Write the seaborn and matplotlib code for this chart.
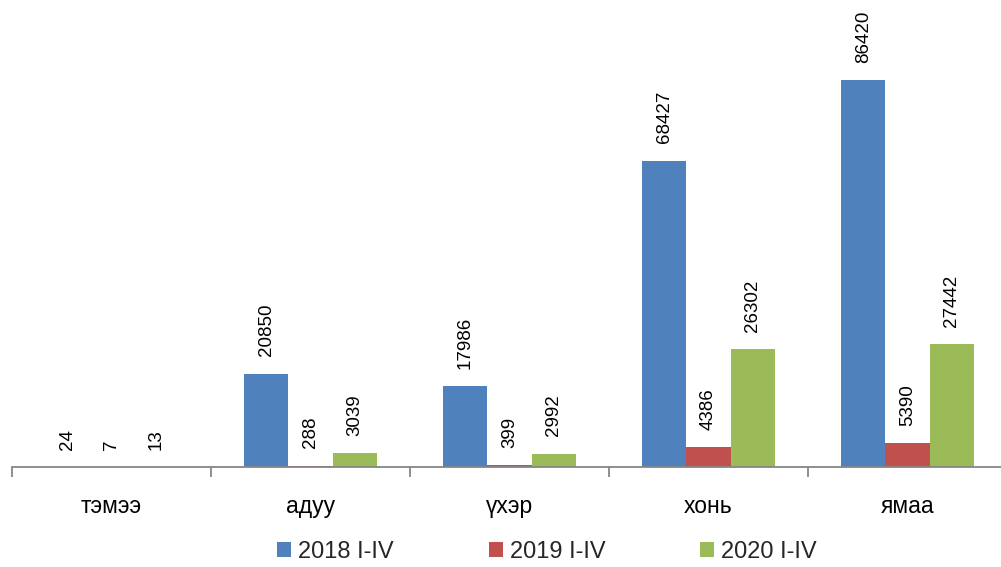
import matplotlib
matplotlib.use("Agg")
import matplotlib.pyplot as plt
import seaborn as sns
import pandas as pd
import numpy as np
from matplotlib.patches import Patch

categories = ["тэмээ", "адуу", "үхэр", "хонь", "ямаа"]
series_names = ["2018 I-IV", "2019 I-IV", "2020 I-IV"]
values_2018 = [24, 20850, 17986, 68427, 86420]
values_2019 = [7, 288, 399, 4386, 5390]
values_2020 = [13, 3039, 2992, 26302, 27442]
colors = ["#4F81BD", "#C0504D", "#9BBB59"]

rows = []
for name, vals in zip(series_names, [values_2018, values_2019, values_2020]):
    for c, v in zip(categories, vals):
        rows.append({"cat": c, "series": name, "value": v})
df = pd.DataFrame(rows)

sns.set_theme(style="white")
plt.rcParams["font.family"] = ["Liberation Sans", "DejaVu Sans"]

W, H = 1001, 567
fig = plt.figure(figsize=(W / 100, H / 100), dpi=100)
left_px, base_px, cat_px = 12, 467, 199
ax = fig.add_axes([left_px / W, 1 - base_px / H, (W - left_px) / W, base_px / H])

sns.barplot(data=df, x="cat", y="value", hue="series", order=categories,
            hue_order=series_names, palette=colors, width=0.668,
            saturation=1, ax=ax, legend=False, edgecolor="none")

for cont in ax.containers:
    ax.bar_label(cont, labels=[str(int(b.get_height())) for b in cont],
                 rotation=90, padding=12.5, fontsize=13.5, color="black")

ax.set_xlabel("")
ax.set_ylabel("")
ax.set_yticks([])
for s in ["top", "right", "left"]:
    ax.spines[s].set_visible(False)
ax.spines["bottom"].set_color("#868686")
ax.spines["bottom"].set_linewidth(1.3)

ax.set_xticks(range(len(categories)))
ax.set_xticklabels(categories, fontsize=16.5)
ax.tick_params(axis="x", which="major", length=0, pad=20, colors="black")
ax.set_xticks(np.arange(-0.5, len(categories), 1.0), minor=True)
ax.tick_params(axis="x", which="minor", length=7, width=1.3, color="#868686", bottom=True)

# limits last (set_ticks may expand the view)
ax.set_xlim(-0.5, -0.5 + (W - left_px) / cat_px)
ax.set_ylim(0, 86420 * base_px / 387)

handles = [Patch(facecolor=c, edgecolor="none") for c in colors]
fig.legend(handles, series_names, loc="center", bbox_to_anchor=(547 / W, 1 - 552 / H),
           ncol=3, frameon=False, fontsize=17, handlelength=0.6, handleheight=0.6,
           handletextpad=0.3, columnspacing=4.0)

fig.savefig("out.png", dpi=100)
